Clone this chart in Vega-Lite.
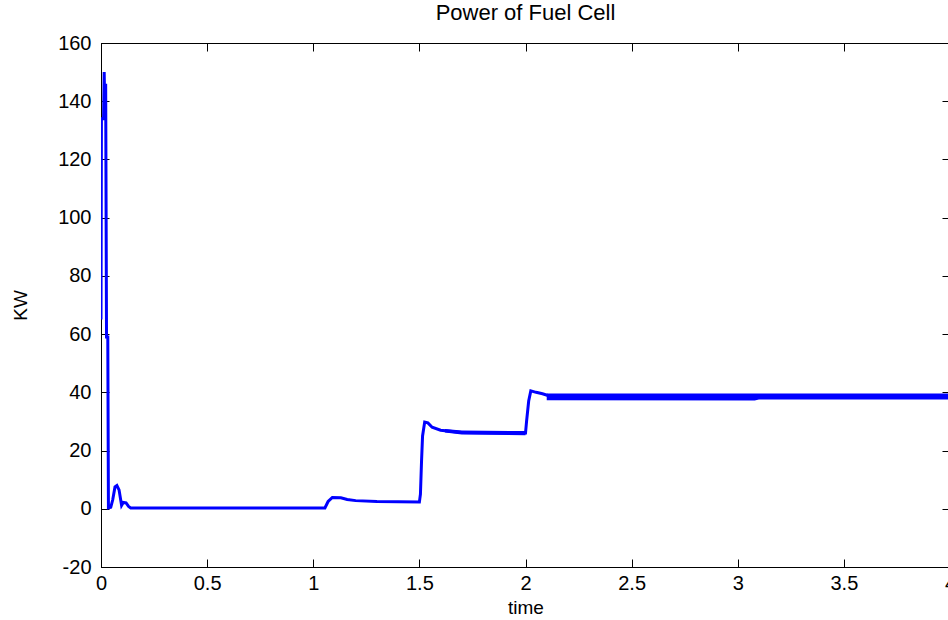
{
  "$schema": "https://vega.github.io/schema/vega-lite/v6.json",
  "autosize": "none",
  "width": 849,
  "height": 524,
  "padding": {"left": 101, "top": 43, "right": 0, "bottom": 53},
  "background": "white",
  "config": {
    "font": "Liberation Sans",
    "view": {"stroke": "black", "strokeWidth": 1},
    "axis": {"grid": false, "domainColor": "black", "tickColor": "black", "labelColor": "black", "titleColor": "black", "labelFont": "Liberation Sans", "titleFont": "Liberation Sans", "labelFontSize": 20, "titleFontSize": 19, "titleFontWeight": "normal", "tickSize": -8, "labelFlush": false, "labelOverlap": false}
  },
  "title": {"text": "Power of Fuel Cell", "fontSize": 22, "fontWeight": "normal", "font": "Liberation Sans", "color": "black", "anchor": "middle", "offset": 8},
  "datasets": {
    "series": [
      {"t": 0.0, "kw": 65}, {"t": 0.002, "kw": 134}, {"t": 0.012, "kw": 134}, {"t": 0.015, "kw": 150}, {"t": 0.018, "kw": 136},
      {"t": 0.022, "kw": 146}, {"t": 0.026, "kw": 59}, {"t": 0.032, "kw": 59}, {"t": 0.035, "kw": 0.3}, {"t": 0.046, "kw": 0.5},
      {"t": 0.055, "kw": 3}, {"t": 0.066, "kw": 7.5}, {"t": 0.075, "kw": 8}, {"t": 0.085, "kw": 6.5}, {"t": 0.097, "kw": 1.2},
      {"t": 0.105, "kw": 2.2}, {"t": 0.118, "kw": 2}, {"t": 0.13, "kw": 0.8}, {"t": 0.14, "kw": 0.3}, {"t": 1.055, "kw": 0.3},
      {"t": 1.07, "kw": 2.5}, {"t": 1.09, "kw": 3.9}, {"t": 1.13, "kw": 3.8}, {"t": 1.16, "kw": 3.2}, {"t": 1.2, "kw": 2.8},
      {"t": 1.3, "kw": 2.5}, {"t": 1.5, "kw": 2.3}, {"t": 1.505, "kw": 5}, {"t": 1.51, "kw": 16}, {"t": 1.515, "kw": 25},
      {"t": 1.525, "kw": 29.8}, {"t": 1.54, "kw": 29.5}, {"t": 1.56, "kw": 28}, {"t": 1.6, "kw": 27}, {"t": 1.7, "kw": 26.2},
      {"t": 2.0, "kw": 26}, {"t": 2.005, "kw": 30}, {"t": 2.015, "kw": 37}, {"t": 2.025, "kw": 40.5}, {"t": 2.05, "kw": 40},
      {"t": 2.08, "kw": 39.5}, {"t": 2.12, "kw": 38.6}, {"t": 2.5, "kw": 38.4}, {"t": 3.0, "kw": 38.4}, {"t": 3.5, "kw": 38.5},
      {"t": 4.0, "kw": 38.5}
    ],
    "band": [
      {"t": 1.62, "lo": 26.2, "hi": 27.4},
      {"t": 1.7, "lo": 25.5, "hi": 26.9},
      {"t": 2.0, "lo": 25.3, "hi": 26.7},
      {"t": 2.1, "lo": 37.3, "hi": 39.6},
      {"t": 3.08, "lo": 37.2, "hi": 39.6},
      {"t": 3.1, "lo": 37.5, "hi": 39.6},
      {"t": 4.0, "lo": 37.5, "hi": 39.6}
    ]
  },
  "layer": [
    {
      "data": {"name": "band"},
      "transform": [{"filter": "datum.t <= 2.0"}],
      "mark": {"type": "area", "color": "#0000ff", "opacity": 1, "clip": true},
      "encoding": {
        "x": {"field": "t", "type": "quantitative", "axis": null},
        "y": {"field": "lo", "type": "quantitative", "axis": null},
        "y2": {"field": "hi"}
      }
    },
    {
      "data": {"name": "band"},
      "transform": [{"filter": "datum.t > 2.0"}],
      "mark": {"type": "area", "color": "#0000ff", "opacity": 1, "clip": true},
      "encoding": {
        "x": {"field": "t", "type": "quantitative", "axis": null},
        "y": {"field": "lo", "type": "quantitative", "axis": null},
        "y2": {"field": "hi"}
      }
    },
    {
      "data": {"name": "series"},
      "mark": {"type": "line", "color": "#0000ff", "strokeWidth": 3, "clip": true},
      "encoding": {
        "x": {"field": "t", "type": "quantitative", "scale": {"domain": [0, 4], "nice": false},
              "axis": {"orient": "bottom", "title": "time", "values": [0, 0.5, 1, 1.5, 2, 2.5, 3, 3.5, 4], "labelExpr": "datum.value + ''", "labelPadding": 14, "titlePadding": 5}},
        "y": {"field": "kw", "type": "quantitative", "scale": {"domain": [-20, 160], "nice": false},
              "axis": {"orient": "left", "title": "KW", "values": [-20, 0, 20, 40, 60, 80, 100, 120, 140, 160], "labelExpr": "datum.value + ''", "labelPadding": 18, "titlePadding": 27}}
      }
    },
    {
      "data": {"name": "series"},
      "mark": {"type": "line", "strokeOpacity": 0},
      "encoding": {
        "x": {"field": "t", "type": "quantitative",
              "axis": {"orient": "top", "title": null, "labels": false, "values": [0, 0.5, 1, 1.5, 2, 2.5, 3, 3.5, 4]}},
        "y": {"field": "kw", "type": "quantitative",
              "axis": {"orient": "right", "title": null, "labels": false, "values": [-20, 0, 20, 40, 60, 80, 100, 120, 140, 160]}}
      }
    }
  ],
  "resolve": {"axis": {"x": "independent", "y": "independent"}}
}
